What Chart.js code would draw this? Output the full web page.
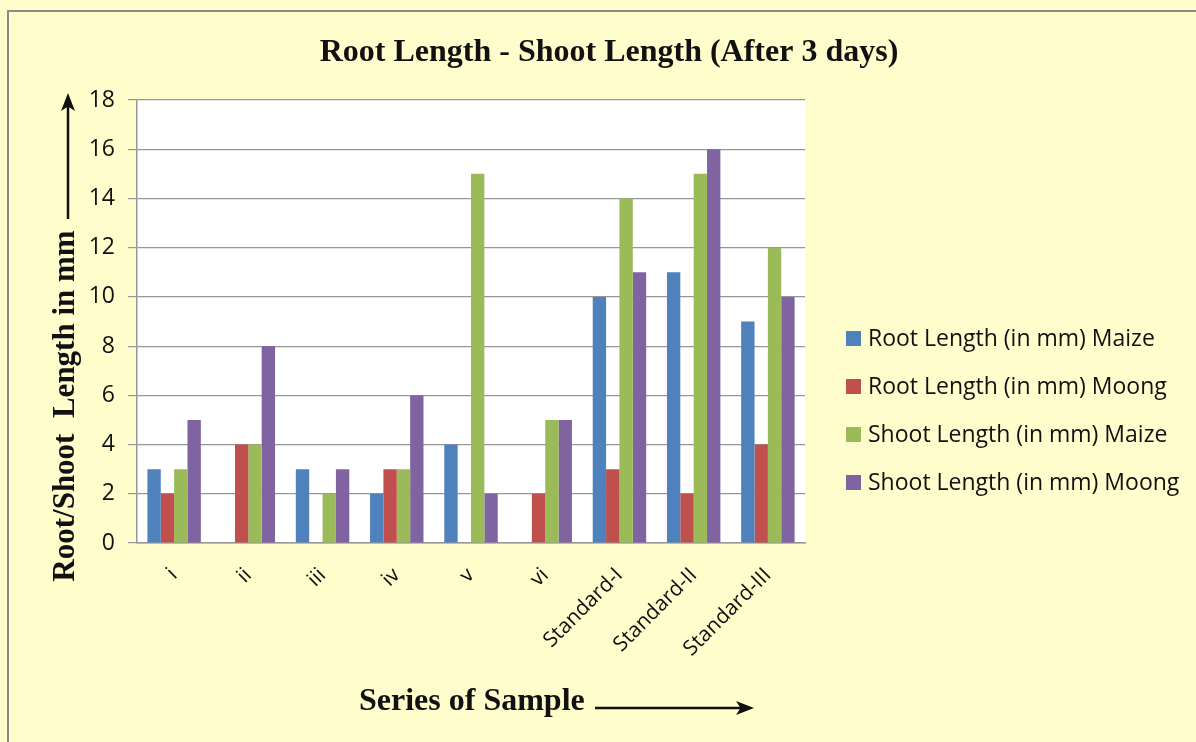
<!DOCTYPE html>
<html>
<head>
<meta charset="utf-8">
<title>Root Length - Shoot Length (After 3 days)</title>
<script src="https://cdn.jsdelivr.net/npm/chart.js@4.4.1/dist/chart.umd.min.js"></script>
<style>
  html, body { margin: 0; padding: 0; background: #fffdcc; }
  #wrap { width: 1196px; height: 742px; }
</style>
</head>
<body>
<div id="wrap"><canvas id="rootShootChart" width="1196" height="742"></canvas></div>
<script>
// samples on the x axis
const samples = ['i', 'ii', 'iii', 'iv', 'v', 'vi', 'Standard-I', 'Standard-II', 'Standard-III'];

// values (mm)
const rootMaize  = [3, 0, 3, 2, 4, 0, 10, 11, 9];
const rootMoong  = [2, 4, 0, 3, 0, 2, 3, 2, 4];
const shootMaize = [3, 4, 2, 3, 15, 5, 14, 15, 12];
const shootMoong = [5, 8, 3, 6, 2, 5, 11, 16, 10];

const seriesNames = [
  'Root Length (in mm) Maize',
  'Root Length (in mm) Moong',
  'Shoot Length (in mm) Maize',
  'Shoot Length (in mm) Moong'
];
const seriesColors = ['#4f81bd', '#c0504d', '#9bbb59', '#8064a2'];

const yMin = 0;
const yMax = 18;
const yStep = 2;

const chartTitle = 'Root Length - Shoot Length (After 3 days)';
const xTitle = 'Series of Sample';
const yTitle = 'Root/Shoot  Length in mm';

const gridColor = '#979797';
const sansFont = '"Open Sans", "DejaVu Sans", sans-serif';
const serifFont = '"Liberation Serif", "DejaVu Serif", serif';

function drawArrow(ctx, x1, y1, x2, y2) {
  const ang = Math.atan2(y2 - y1, x2 - x1);
  const headLen = 18, headHalf = 7;
  const c = Math.cos(ang), s = Math.sin(ang);
  ctx.beginPath();
  ctx.moveTo(x1, y1);
  ctx.lineTo(x2 - c * headLen * 0.6, y2 - s * headLen * 0.6);
  ctx.stroke();
  ctx.beginPath();
  ctx.moveTo(x2, y2);
  ctx.lineTo(x2 - c * headLen + s * headHalf, y2 - s * headLen - c * headHalf);
  ctx.lineTo(x2 - c * headLen * 0.75, y2 - s * headLen * 0.75);
  ctx.lineTo(x2 - c * headLen - s * headHalf, y2 - s * headLen + c * headHalf);
  ctx.closePath();
  ctx.fill();
}

// background, frame, plot area fill
const backdrop = {
  id: 'backdrop',
  beforeDraw(chart) {
    const { ctx, chartArea, width, height } = chart;
    ctx.save();
    ctx.fillStyle = '#fffdcc';
    ctx.fillRect(0, 0, width, height);
    ctx.fillStyle = '#ffffff';
    ctx.fillRect(chartArea.left, chartArea.top, chartArea.right - chartArea.left, chartArea.bottom - chartArea.top);
    ctx.strokeStyle = '#8a8a8a';
    ctx.lineWidth = 2;
    ctx.beginPath();
    ctx.moveTo(8, height);
    ctx.lineTo(8, 11);
    ctx.lineTo(width, 11);
    ctx.stroke();
    ctx.restore();
  }
};

// titles, arrows and the legend
const annotations = {
  id: 'annotations',
  afterDraw(chart) {
    const { ctx } = chart;
    ctx.save();
    ctx.fillStyle = '#111111';
    ctx.strokeStyle = '#111111';

    // main title
    ctx.font = 'bold 32px ' + serifFont;
    ctx.textAlign = 'center';
    ctx.textBaseline = 'alphabetic';
    ctx.fillText(chartTitle, 609, 61);

    // x title + arrow
    ctx.textAlign = 'left';
    ctx.fillText(xTitle, 359, 710);
    ctx.lineWidth = 2.5;
    drawArrow(ctx, 595, 708, 754, 708);

    // y title + arrow
    ctx.save();
    ctx.font = 'bold 31px ' + serifFont;
    ctx.translate(66, 406);
    ctx.rotate(-Math.PI / 2);
    ctx.textAlign = 'center';
    ctx.textBaseline = 'middle';
    ctx.fillText(yTitle, 0, 0);
    ctx.restore();
    drawArrow(ctx, 68, 219, 68, 93);

    // legend
    ctx.font = '23px ' + sansFont;
    ctx.textAlign = 'left';
    ctx.textBaseline = 'middle';
    chart.data.datasets.forEach((ds, i) => {
      const cy = 338 + i * 48;
      ctx.fillStyle = ds.backgroundColor;
      ctx.fillRect(846, cy - 7, 15, 15);
      ctx.fillStyle = '#111111';
      ctx.fillText(ds.label, 868, cy + 1);
    });
    ctx.restore();
  }
};

const seriesValues = [rootMaize, rootMoong, shootMaize, shootMoong];

new Chart(document.getElementById('rootShootChart'), {
  type: 'bar',
  data: {
    labels: samples,
    datasets: seriesValues.map((vals, i) => ({
      label: seriesNames[i],
      data: vals,
      backgroundColor: seriesColors[i],
      borderWidth: 0,
      categoryPercentage: 0.72,
      barPercentage: 1.0
    }))
  },
  options: {
    responsive: false,
    animation: false,
    layout: { padding: { left: 0, top: 100, right: 391, bottom: 0 } },
    plugins: {
      legend: { display: false },
      title: { display: false },
      tooltip: { enabled: false }
    },
    scales: {
      x: {
        grid: { display: false },
        border: { color: gridColor, width: 1.5 },
        ticks: {
          color: '#111111',
          font: { family: sansFont, size: 21 },
          minRotation: 45,
          maxRotation: 45,
          padding: 12
        },
        afterFit(scale) { scale.height = 199; }
      },
      y: {
        min: yMin,
        max: yMax,
        grid: { color: gridColor, lineWidth: 1.2, tickLength: 9, drawTicks: true },
        border: { color: gridColor, width: 1.5 },
        ticks: {
          stepSize: yStep,
          color: '#111111',
          font: { family: sansFont, size: 23 },
          padding: 13
        },
        afterFit(scale) { scale.width = 137; }
      }
    }
  },
  plugins: [backdrop, annotations]
});
</script>
</body>
</html>
